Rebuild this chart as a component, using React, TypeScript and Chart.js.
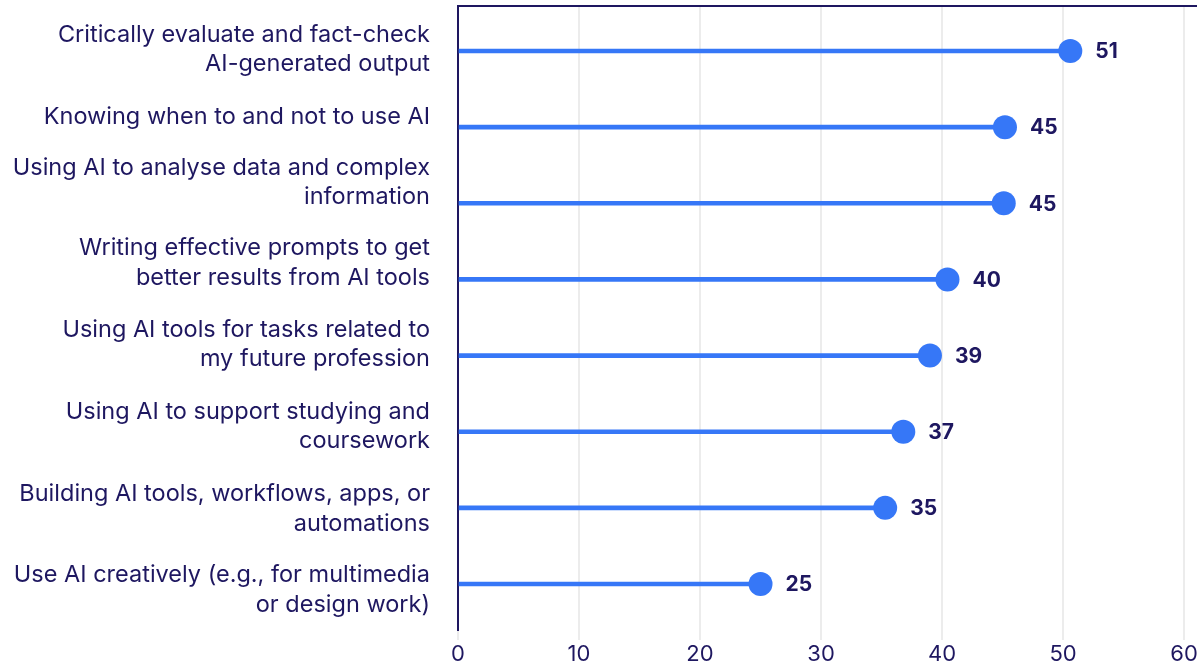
import React, { useEffect, useRef } from "react";
import { Chart, registerables } from "chart.js";

Chart.register(...registerables);

const categories: string[][] = [
  ["Critically evaluate and fact-check", "AI-generated output"],
  ["Knowing when to and not to use AI"],
  ["Using AI to analyse data and complex", "information"],
  ["Writing effective prompts to get", "better results from AI tools"],
  ["Using AI tools for tasks related to", "my future profession"],
  ["Using AI to support studying and", "coursework"],
  ["Building AI tools, workflows, apps, or", "automations"],
  ["Use AI creatively (e.g., for multimedia", "or design work)"],
];
const values: number[] = [50.6, 45.2, 45.1, 40.45, 39.0, 36.8, 35.3, 25.0];
const valueLabels: string[] = ["51", "45", "45", "40", "39", "37", "35", "25"];
const xTicks: number[] = [0, 10, 20, 30, 40, 50, 60];
// vertical nudge of each category label relative to its row (in row units)
const labelShift: number[] = [-0.02, -0.133, -0.273, -0.216, -0.146, -0.068, 0.016, 0.079];

const BLUE = "#3677f7";
const NAVY = "#1e1760";
const GRID = "#ececec";
const FONT = "Inter";

export default function App() {
  const ref = useRef<HTMLCanvasElement | null>(null);

  useEffect(() => {
    if (!ref.current) return;
    const points = values.map((v, i) => ({ x: v, y: i }));

    const frame = {
      id: "frame",
      beforeDatasetsDraw(chart: any) {
        const { ctx, chartArea } = chart;
        ctx.save();
        ctx.strokeStyle = NAVY;
        ctx.lineWidth = 2;
        ctx.beginPath();
        ctx.moveTo(chartArea.left - 1, chartArea.top);
        ctx.lineTo(chartArea.right, chartArea.top);
        ctx.stroke();
        ctx.restore();
      },
    };

    const valueText = {
      id: "valueText",
      afterDatasetsDraw(chart: any) {
        const { ctx } = chart;
        const meta = chart.getDatasetMeta(0);
        ctx.save();
        ctx.fillStyle = NAVY;
        ctx.font = `bold 21px ${FONT}`;
        ctx.textAlign = "left";
        ctx.textBaseline = "middle";
        meta.data.forEach((el: any, i: number) => {
          ctx.fillText(valueLabels[i], el.x + 25, el.y + 1);
        });
        ctx.restore();
      },
    };

    const chart = new Chart(ref.current, {
      type: "bar",
      data: {
        datasets: [
          {
            type: "line",
            data: points,
            showLine: false,
            pointRadius: 12,
            pointHoverRadius: 12,
            pointBackgroundColor: BLUE,
            pointBorderWidth: 0,
            borderColor: BLUE,
            order: 0,
          } as any,
          {
            type: "bar",
            data: points,
            backgroundColor: BLUE,
            barThickness: 4,
            order: 1,
          } as any,
        ],
      },
      options: {
        indexAxis: "y",
        animation: false,
        responsive: true,
        maintainAspectRatio: false,
        layout: { autoPadding: false, padding: { top: 6, right: 4, left: 0, bottom: 0 } },
        plugins: { legend: { display: false }, tooltip: { enabled: false } },
        scales: {
          x: {
            type: "linear",
            min: 0,
            max: 61.07,
            offset: false,
            afterBuildTicks: (s: any) => {
              s.ticks = xTicks.map((v) => ({ value: v }));
            },
            afterFit: (s: any) => {
              s.height = 35;
              s.paddingLeft = 0;
              s.paddingRight = 0;
            },
            grid: { color: GRID, lineWidth: 2, tickLength: 10, drawTicks: true, offset: false },
            border: { display: false },
            ticks: {
              color: NAVY,
              font: { family: FONT, size: 22 },
              padding: 1,
              maxRotation: 0,
              autoSkip: false,
            },
          },
          y: {
            type: "linear",
            reverse: true,
            offset: false,
            min: -0.591,
            max: 7.604,
            afterBuildTicks: (s: any) => {
              s.ticks = categories.map((_, i) => ({ value: i + labelShift[i] }));
            },
            afterFit: (s: any) => {
              s.width = 458;
              s.paddingTop = 0;
              s.paddingBottom = 0;
            },
            grid: { display: false, drawTicks: false, offset: false },
            border: { display: true, color: NAVY, width: 2 },
            ticks: {
              autoSkip: false,
              color: NAVY,
              padding: 28,
              font: { family: FONT, size: 23.5, lineHeight: 1.25 },
              callback: (_v: any, i: number) => categories[i],
            },
          },
        },
      } as any,
      plugins: [frame, valueText],
    });
    return () => chart.destroy();
  }, []);

  return (
    <div style={{ position: "absolute", left: 0, top: 0, width: 1201, height: 665, background: "#fff" }}>
      <canvas ref={ref} />
    </div>
  );
}
